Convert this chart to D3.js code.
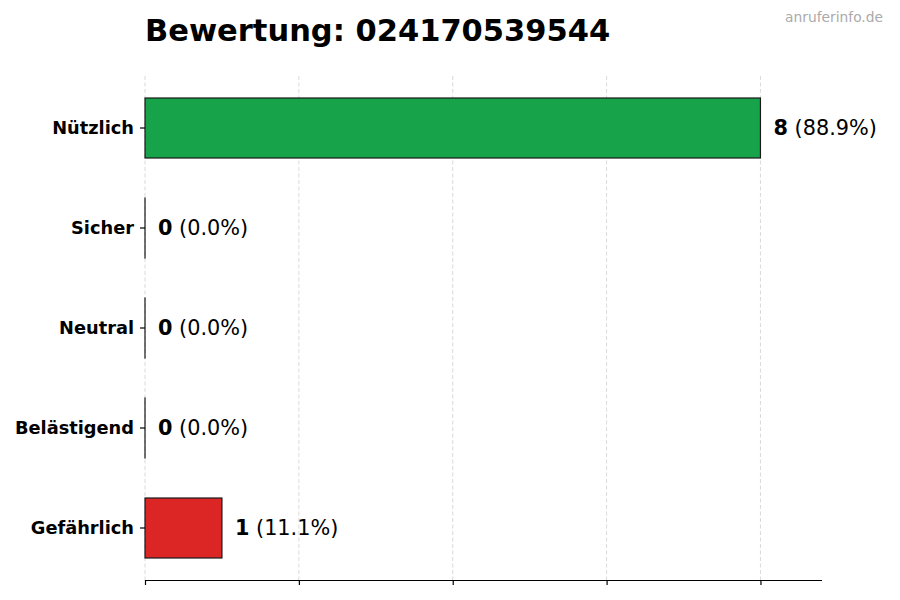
<!DOCTYPE html>
<html><head><meta charset="utf-8">
<script src="https://cdn.jsdelivr.net/npm/d3@7"></script>
<style>body{margin:0;background:#fff}svg{display:block}text{font-family:"DejaVu Sans",sans-serif}</style>
</head><body><svg id="c" width="900" height="600"></svg>
<script>
const categories = ["Nützlich","Sicher","Neutral","Belästigend","Gefährlich"];
const counts = [8,0,0,0,1];
const colors = ["#16a34a","#16a34a","#6b7280","#f97316","#dc2626"];
const xTicks = [0,2,4,6,8];
const title = "Bewertung: 024170539544";
const watermark = "anruferinfo.de";

const svg = d3.select("#c");
const mLeft=145, mRight=822, mTop=76, mBottom=580;
const total = d3.sum(counts);
const x = d3.scaleLinear().domain([0, d3.max(counts)*1.1]).range([mLeft,mRight]);
const y = d3.scaleBand().domain(categories).range([mTop,mBottom]).paddingInner(0.4).paddingOuter(0.22);

// grid
svg.append("g").selectAll("line").data(xTicks).join("line")
  .attr("x1",d=>x(d)).attr("x2",d=>x(d)).attr("y1",mTop).attr("y2",mBottom)
  .attr("stroke","#d0d0d0").attr("stroke-width",0.8).attr("stroke-dasharray","4,2.5");

// bars
svg.append("g").selectAll("rect").data(categories).join("rect")
  .attr("x",x(0)).attr("y",d=>y(d)).attr("height",y.bandwidth())
  .attr("width",(d,i)=>Math.max(x(counts[i])-x(0),0.01))
  .attr("fill",(d,i)=>colors[i]).attr("stroke","#1a1a1a").attr("stroke-width",1.2);

// x axis
const xa = svg.append("g").attr("transform",`translate(0,${mBottom})`)
  .call(d3.axisBottom(x).tickValues(xTicks).tickSize(5).tickFormat(""));
xa.select(".domain").attr("stroke","#000").attr("stroke-width",1.2).attr("d",`M${mLeft},0.5H${mRight}`);
xa.selectAll(".tick line").attr("stroke","#000").attr("stroke-width",1.2);

// y axis
const ya = svg.append("g").attr("transform",`translate(${mLeft},0)`)
  .call(d3.axisLeft(y).tickSize(5).tickPadding(6));
ya.select(".domain").remove();
ya.selectAll(".tick line").attr("stroke","#000").attr("stroke-width",1.2);
ya.selectAll(".tick text").attr("font-size",17.8).attr("font-weight","bold").attr("fill","#000")
  .attr("font-family","DejaVu Sans");

// value labels
const lab = svg.append("g").selectAll("text").data(categories).join("text")
  .attr("x",(d,i)=>x(counts[i])+13).attr("y",d=>y(d)+y.bandwidth()/2).attr("dy","0.35em")
  .attr("font-size",20.8).attr("fill","#000");
lab.append("tspan").attr("font-weight","bold").text((d,i)=>counts[i]);
lab.append("tspan").text((d,i)=>" ("+(counts[i]/total*100).toFixed(1)+"%)");

// title
svg.append("text").attr("x",145).attr("y",41).attr("font-size",30.5).attr("font-weight","bold").text(title);
svg.append("text").attr("x",883).attr("y",22).attr("text-anchor","end").attr("font-size",13.8).attr("fill","#aaa").text(watermark);
</script></body></html>
